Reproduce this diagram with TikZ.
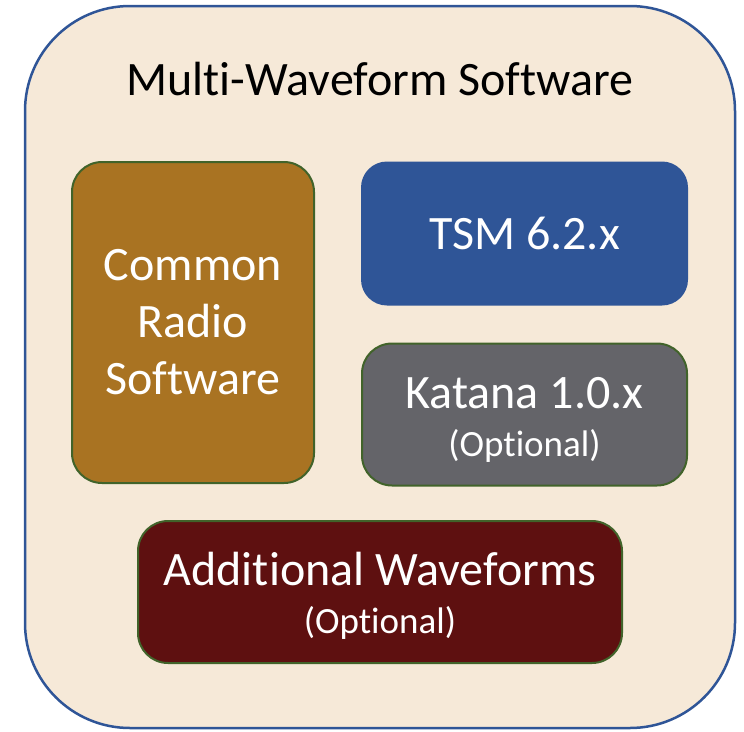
\documentclass[tikz,border=0pt]{standalone}
\usepackage{fontspec}
\setmainfont{Carlito}[Ligatures=NoCommon]
\usepackage{tikz}
\usetikzlibrary{positioning}

\definecolor{paper}{HTML}{F6E9D8}
\definecolor{frameblue}{HTML}{2F5597}
\definecolor{boxgreen}{HTML}{41632A}
\definecolor{radiobrown}{HTML}{A97322}
\definecolor{tsmblue}{HTML}{2F5597}
\definecolor{katanagray}{HTML}{646469}
\definecolor{wavered}{HTML}{5E1010}
\newcommand{\optfont}{\fontsize{37}{45}\selectfont}
\newcommand{\topstrut}{\rule{0pt}{41pt}}

\begin{document}
\begin{tikzpicture}[x=1pt,y=-1pt,
            outer/.style={draw=frameblue,line width=2.5pt,fill=paper,rounded corners=105pt},
            block/.style={draw=boxgreen,line width=2pt,rounded corners=30pt,text=white,align=center,font=\fontsize{48}{57}\selectfont},
            wide/.style={block,minimum width=325pt,minimum height=142pt}
          ]
          \useasboundingbox (0,0) rectangle (744,731);
          %frame
          \node[outer,minimum width=710pt,minimum height=722pt] (msw) at (380,367) {};
          \node[anchor=base,font=\fontsize{48}{57}\selectfont] (title) at (380,95) {Multi-Waveform Software};

          %blocks
          \node[block,fill=radiobrown,minimum width=242pt,minimum height=321pt] (crs) at (193,322.5) {Common\\Radio\\Software};
          \node[wide,fill=tsmblue,draw=tsmblue,rounded corners=25pt] (tsm) at (524.5,233.5) {TSM 6.2.x};
          \node[wide,fill=katanagray,below=37pt of tsm] (katana) {\topstrut Katana 1.0.x\\[-9pt]{\optfont (Optional)}};
          \node[wide,fill=wavered,minimum width=484pt] (addwf) at (380,592) {\topstrut Additional Waveforms\\[-9pt]{\optfont (Optional)}};

      \end{tikzpicture}
\end{document}
